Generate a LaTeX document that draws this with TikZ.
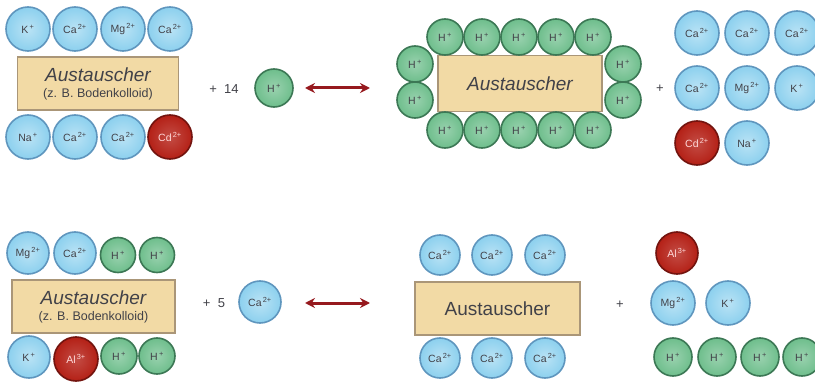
\documentclass[tikz,border=0pt]{standalone}
\usepackage{fontspec}
\setmainfont{Liberation Sans}
\usetikzlibrary{arrows.meta}

\definecolor{cablue}{RGB}{140,208,238}
\definecolor{cablueline}{RGB}{95,150,190}
\definecolor{hgreen}{RGB}{110,190,140}
\definecolor{hgreenline}{RGB}{60,120,85}
\definecolor{redion}{RGB}{180,32,22}
\definecolor{redionline}{RGB}{115,20,15}
\definecolor{boxfill}{RGB}{242,218,165}
\definecolor{boxline}{RGB}{170,150,120}
\definecolor{labelgrey}{RGB}{65,65,72}
\definecolor{arrowred}{RGB}{150,25,30}

\newcommand{\chg}[2]{#1\textsuperscript{\,#2}}

\tikzset{
  ionbase/.style={circle, inner sep=0pt, line width=1.6pt,
    font=\fontsize{10.5}{10.5}\selectfont, text=labelgrey},
  blueion/.style={ionbase, shade, inner color=cablue!60!white, outer color=cablue, draw=cablueline},
  greenion/.style={ionbase, shade, inner color=hgreen!70!white, outer color=hgreen, draw=hgreenline},
  redionst/.style={ionbase, shade, inner color=redion!80!white, outer color=redion, draw=redionline, text=red!15!white},
  exchbox/.style={rectangle, fill=boxfill, draw=boxline, line width=1.2pt, inner sep=0pt,
    text=labelgrey, align=center},
  optxt/.style={font=\fontsize{13}{13}\selectfont, text=labelgrey},
  eqarrow/.style={{Stealth[length=10pt,width=10pt]}-{Stealth[length=10pt,width=10pt]},
    line width=3pt, draw=arrowred}
}
\newcommand{\bigword}{\fontsize{19}{22}\selectfont}
\newcommand{\subword}{\fontsize{12.5}{14}\selectfont}

\begin{document}
\begin{tikzpicture}[x=1pt,y=-1pt]
\useasboundingbox (0,0) rectangle (815,385);

% ---------------- first reaction: exchanger loaded with cations + H+
\node[exchbox, minimum width=161pt, minimum height=53pt] (bx1) at (98,83.5)
  {{\bigword\itshape Austauscher}\\[4pt]{\subword (z. B. Bodenkolloid)}};
\begin{scope}[every node/.append style={minimum size=44pt}]
\node[blueion] (a1) at (28,29) {\chg{K}{+}};
\node[blueion] (a2) at (75,29) {\chg{Ca}{2+}};
\node[blueion] (a3) at (123,29) {\chg{Mg}{2+}};
\node[blueion] (a4) at (170,29) {\chg{Ca}{2+}};
\node[blueion] (a5) at (28,137) {\chg{Na}{+}};
\node[blueion] (a6) at (75,137) {\chg{Ca}{2+}};
\node[blueion] (a7) at (123,137) {\chg{Ca}{2+}};
\node[redionst] (a8) at (170,137) {\chg{Cd}{2+}};
\end{scope}

\node[optxt] (p1) at (224,89) {+\ \ 14};
\node[greenion, minimum size=38pt] (h1) at (274,88) {\chg{H}{+}};

\coordinate (r1l) at (305,88);
\coordinate (r1r) at (370,88);
\draw[eqarrow] (r1l) -- (r1r);

% exchanger loaded with protons
\node[exchbox, minimum width=164pt, minimum height=56pt] (bx2) at (520,83.5)
  {{\bigword\itshape Austauscher}};
\begin{scope}[every node/.append style={greenion, minimum size=36pt}]
\node (b1) at (445,37) {\chg{H}{+}};
\node (b2) at (482,37) {\chg{H}{+}};
\node (b3) at (519,37) {\chg{H}{+}};
\node (b4) at (556,37) {\chg{H}{+}};
\node (b5) at (593,37) {\chg{H}{+}};
\node (b6) at (415,64) {\chg{H}{+}};
\node (b7) at (415,100) {\chg{H}{+}};
\node (b8) at (623,64) {\chg{H}{+}};
\node (b9) at (623,100) {\chg{H}{+}};
\node (b10) at (445,130) {\chg{H}{+}};
\node (b11) at (482,130) {\chg{H}{+}};
\node (b12) at (519,130) {\chg{H}{+}};
\node (b13) at (556,130) {\chg{H}{+}};
\node (b14) at (593,130) {\chg{H}{+}};
\end{scope}

\node[optxt] (p2) at (660,89) {+};
\begin{scope}[every node/.append style={minimum size=44pt}]
\node[blueion] (c1) at (697,33) {\chg{Ca}{2+}};
\node[blueion] (c2) at (747,33) {\chg{Ca}{2+}};
\node[blueion] (c3) at (797,33) {\chg{Ca}{2+}};
\node[blueion] (c4) at (697,88) {\chg{Ca}{2+}};
\node[blueion] (c5) at (747,88) {\chg{Mg}{2+}};
\node[blueion] (c6) at (797,88) {\chg{K}{+}};
\node[redionst] (c7) at (697,143) {\chg{Cd}{2+}};
\node[blueion] (c8) at (747,143) {\chg{Na}{+}};
\end{scope}

% ---------------- second reaction: exchanger with Al3+ and H+ + Ca2+
\node[exchbox, minimum width=163pt, minimum height=53pt] (bx3) at (93.5,306.5)
  {{\bigword\itshape Austauscher}\\[4pt]{\subword (z. B. Bodenkolloid)}};
\node[blueion, minimum size=42pt] (d1) at (28,253) {\chg{Mg}{2+}};
\node[blueion, minimum size=42pt] (d2) at (75,253) {\chg{Ca}{2+}};
\node[greenion, minimum size=35pt] (d3) at (118,255) {\chg{H}{+}};
\node[greenion, minimum size=35pt] (d4) at (157,255) {\chg{H}{+}};
\node[blueion, minimum size=42pt] (d5) at (29,357) {\chg{K}{+}};
\node[redionst, minimum size=44pt] (d6) at (76,359) {\chg{Al}{3+}};
\node[greenion, minimum size=36pt] (d7) at (119,356) {\chg{H}{+}};
\node[greenion, minimum size=36pt] (d8) at (157,356) {\chg{H}{+}};

\node[optxt] (p3) at (214,303) {+\ \ 5};
\node[blueion, minimum size=42pt] (e1) at (260,302) {\chg{Ca}{2+}};

\coordinate (r2l) at (305,303);
\coordinate (r2r) at (370,303);
\draw[eqarrow] (r2l) -- (r2r);

% exchanger loaded with calcium
\node[exchbox, minimum width=165pt, minimum height=53pt] (bx4) at (497.5,308.5)
  {{\bigword Austauscher}};
\begin{scope}[every node/.append style={blueion, minimum size=40pt}]
\node (f1) at (440,255) {\chg{Ca}{2+}};
\node (f2) at (492,255) {\chg{Ca}{2+}};
\node (f3) at (545,255) {\chg{Ca}{2+}};
\node (f4) at (440,358) {\chg{Ca}{2+}};
\node (f5) at (492,358) {\chg{Ca}{2+}};
\node (f6) at (545,358) {\chg{Ca}{2+}};
\end{scope}

\node[optxt] (p4) at (620,305) {+};
\node[redionst, minimum size=42pt] (g1) at (677,253) {\chg{Al}{3+}};
\node[blueion, minimum size=44pt] (g2) at (673,303) {\chg{Mg}{2+}};
\node[blueion, minimum size=44pt] (g3) at (728,303) {\chg{K}{+}};
\begin{scope}[every node/.append style={greenion, minimum size=38pt}]
\node (g4) at (673,357) {\chg{H}{+}};
\node (g5) at (717,357) {\chg{H}{+}};
\node (g6) at (760,357) {\chg{H}{+}};
\node (g7) at (802,357) {\chg{H}{+}};
\end{scope}
\end{tikzpicture}
\end{document}
